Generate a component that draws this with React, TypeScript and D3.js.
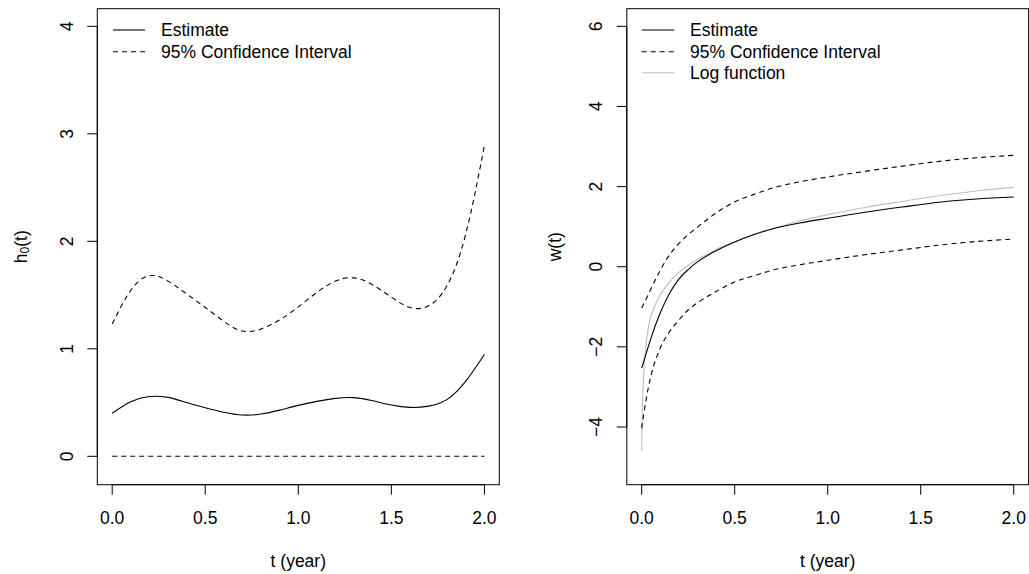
import React from "react";
import * as d3 from "d3";

// ---------- Data ----------
const leftT = [0, 0.1, 0.2, 0.3, 0.4, 0.5, 0.6, 0.7, 0.8, 0.9, 1.0, 1.1, 1.2, 1.3, 1.4, 1.5, 1.6, 1.7, 1.8, 1.9, 2.0];
const leftEstimate = [0.40, 0.507, 0.556, 0.548, 0.50, 0.452, 0.41, 0.384, 0.393, 0.43, 0.474, 0.511, 0.539, 0.546, 0.517, 0.477, 0.455, 0.467, 0.53, 0.70, 0.948];
const leftUpper = [1.23, 1.545, 1.68, 1.63, 1.51, 1.385, 1.255, 1.165, 1.185, 1.27, 1.39, 1.525, 1.63, 1.66, 1.595, 1.48, 1.385, 1.40, 1.59, 2.07, 2.89];
const leftLower = [0, 0, 0, 0, 0, 0, 0, 0, 0, 0, 0, 0, 0, 0, 0, 0, 0, 0, 0, 0, 0];

const rightT = [0, 0.025, 0.05, 0.1, 0.15, 0.2, 0.25, 0.3, 0.4, 0.5, 0.6, 0.7, 0.85, 1.0, 1.2, 1.4, 1.6, 1.8, 2.0];
const rightEstimate = [-2.53, -2.15, -1.78, -1.15, -0.66, -0.31, -0.07, 0.12, 0.40, 0.62, 0.80, 0.94, 1.09, 1.21, 1.36, 1.49, 1.61, 1.69, 1.74];
const rightUpper = [-1.03, -0.79, -0.55, -0.09, 0.30, 0.58, 0.80, 0.99, 1.34, 1.62, 1.80, 1.96, 2.12, 2.24, 2.38, 2.51, 2.63, 2.72, 2.78];
const rightLower = [-4.03, -3.28, -2.72, -2.03, -1.62, -1.33, -1.08, -0.90, -0.62, -0.38, -0.23, -0.09, 0.05, 0.16, 0.30, 0.42, 0.54, 0.63, 0.69];

const logT = [0, 0.002, 0.005, 0.01, 0.02, 0.04, 0.07, 0.1, 0.15, 0.2, 0.25, 0.3, 0.4, 0.5, 0.6, 0.8, 1.0, 1.2, 1.4, 1.6, 1.8, 2.0];
const logValues = [-4.6, -3.9, -3.3, -2.75, -2.08, -1.42, -0.98, -0.70, -0.38, -0.14, 0.03, 0.18, 0.43, 0.62, 0.79, 1.08, 1.30, 1.48, 1.63, 1.77, 1.89, 1.98];

const xTicks = [0, 0.5, 1.0, 1.5, 2.0];
const xTickLabels = ["0.0", "0.5", "1.0", "1.5", "2.0"];
const leftYTicks = [0, 1, 2, 3, 4];
const leftYTickLabels = ["0", "1", "2", "3", "4"];
const rightYTicks = [-4, -2, 0, 2, 4, 6];
const rightYTickLabels = ["\u22124", "\u22122", "0", "2", "4", "6"];

const leftLegend = ["Estimate", "95% Confidence Interval"];
const rightLegend = ["Estimate", "95% Confidence Interval", "Log function"];

// ---------- Layout ----------
const W = 1029;
const H = 574;
const FONT = "'Liberation Sans', Arial, Helvetica, sans-serif";
const FS = 17.5;
const DASH = "5,4";
const GRAY = "#bebebe";
const TOP = 8.7;
const BOTTOM = 484.7;

type Panel = {
  x0: number;
  x1: number;
  yDomain: [number, number];
  yTicks: number[];
  yTickLabels: string[];
  yTickLabelX: number;
  yLabelX: number;
};

function Frame({ p, xs, ys, yLabel }: { p: Panel; xs: any; ys: any; yLabel: React.ReactNode }) {
  const tick = 10;
  return (
    <g>
      <rect x={p.x0} y={TOP} width={p.x1 - p.x0} height={BOTTOM - TOP} fill="none" stroke="#000" strokeWidth={1} />
      <line x1={xs(xTicks[0])} x2={xs(xTicks[xTicks.length - 1])} y1={BOTTOM} y2={BOTTOM} stroke="#000" />
      {xTicks.map((t, i) => (
        <g key={"xt" + i}>
          <line x1={xs(t)} x2={xs(t)} y1={BOTTOM} y2={BOTTOM + tick} stroke="#000" />
          <text x={xs(t)} y={517.5} textAnchor="middle" dominantBaseline="central" fontSize={FS} fontFamily={FONT}>
            {xTickLabels[i]}
          </text>
        </g>
      ))}
      <text x={xs(1)} y={561} textAnchor="middle" dominantBaseline="central" fontSize={FS} fontFamily={FONT}>
        t (year)
      </text>
      <line x1={p.x0} x2={p.x0} y1={ys(p.yTicks[0])} y2={ys(p.yTicks[p.yTicks.length - 1])} stroke="#000" />
      {p.yTicks.map((v, i) => (
        <g key={"yt" + i}>
          <line x1={p.x0 - tick} x2={p.x0} y1={ys(v)} y2={ys(v)} stroke="#000" />
          <text
            transform={`translate(${p.yTickLabelX},${ys(v)}) rotate(-90)`}
            textAnchor="middle"
            dominantBaseline="central"
            fontSize={FS}
            fontFamily={FONT}
          >
            {p.yTickLabels[i]}
          </text>
        </g>
      ))}
      <text
        transform={`translate(${p.yLabelX},${(TOP + BOTTOM) / 2}) rotate(-90)`}
        textAnchor="middle"
        dominantBaseline="central"
        fontSize={FS}
        fontFamily={FONT}
      >
        {yLabel}
      </text>
    </g>
  );
}

export default function App() {
  const leftPanel: Panel = {
    x0: 97.3,
    x1: 499.3,
    yDomain: [-0.264, 4.164],
    yTicks: leftYTicks,
    yTickLabels: leftYTickLabels,
    yTickLabelX: 67,
    yLabelX: 21,
  };
  const rightPanel: Panel = {
    x0: 626.8,
    x1: 1028.6,
    yDomain: [-5.44, 6.44],
    yTicks: rightYTicks,
    yTickLabels: rightYTickLabels,
    yTickLabelX: 596,
    yLabelX: 555,
  };

  const xL = d3.scaleLinear().domain([-0.08, 2.08]).range([leftPanel.x0, leftPanel.x1]);
  const yL = d3.scaleLinear().domain(leftPanel.yDomain).range([BOTTOM, TOP]);
  const xR = d3.scaleLinear().domain([-0.08, 2.08]).range([rightPanel.x0, rightPanel.x1]);
  const yR = d3.scaleLinear().domain(rightPanel.yDomain).range([BOTTOM, TOP]);

  const lineL = (ts: number[], vs: number[]) =>
    d3
      .line<number>()
      .x((_, i) => xL(ts[i]))
      .y((d) => yL(d))
      .curve(d3.curveNatural)(vs) as string;
  const lineR = (ts: number[], vs: number[]) =>
    d3
      .line<number>()
      .x((_, i) => xR(ts[i]))
      .y((d) => yR(d))
      .curve(d3.curveMonotoneX)(vs) as string;

  const legendRows = [30, 51.7, 72.8];

  return (
    <svg width={W} height={H} style={{ position: "absolute", left: 0, top: 0, background: "#fff" }}>
      <rect x={0} y={0} width={W} height={H} fill="#fff" />
      <Frame
        p={leftPanel}
        xs={xL}
        ys={yL}
        yLabel={
          <>
            h
            <tspan fontSize={12} dy={4}>0</tspan>
            <tspan dy={-4}>(t)</tspan>
          </>
        }
      />
      <path d={lineL(leftT, leftEstimate)} fill="none" stroke="#000" strokeWidth={1.1} />
      <path d={lineL(leftT, leftUpper)} fill="none" stroke="#000" strokeWidth={1.1} strokeDasharray={DASH} />
      <path d={lineL(leftT, leftLower)} fill="none" stroke="#000" strokeWidth={1.1} strokeDasharray={DASH} />
      {leftLegend.map((lab, i) => (
        <g key={"ll" + i}>
          <line x1={113} x2={145} y1={legendRows[i]} y2={legendRows[i]} stroke="#000" strokeWidth={1.1} strokeDasharray={i === 1 ? DASH : undefined} />
          <text x={161} y={legendRows[i]} dominantBaseline="central" fontSize={FS} fontFamily={FONT}>
            {lab}
          </text>
        </g>
      ))}

      <Frame p={rightPanel} xs={xR} ys={yR} yLabel={"w(t)"} />
      <path d={lineR(logT, logValues)} fill="none" stroke={GRAY} strokeWidth={1.1} />
      <path d={lineR(rightT, rightEstimate)} fill="none" stroke="#000" strokeWidth={1.1} />
      <path d={lineR(rightT, rightUpper)} fill="none" stroke="#000" strokeWidth={1.1} strokeDasharray={DASH} />
      <path d={lineR(rightT, rightLower)} fill="none" stroke="#000" strokeWidth={1.1} strokeDasharray={DASH} />
      {rightLegend.map((lab, i) => (
        <g key={"rl" + i}>
          <line
            x1={641.7}
            x2={674.3}
            y1={legendRows[i]}
            y2={legendRows[i]}
            stroke={i === 2 ? GRAY : "#000"}
            strokeWidth={1.1}
            strokeDasharray={i === 1 ? DASH : undefined}
          />
          <text x={690} y={legendRows[i]} dominantBaseline="central" fontSize={FS} fontFamily={FONT}>
            {lab}
          </text>
        </g>
      ))}
    </svg>
  );
}
